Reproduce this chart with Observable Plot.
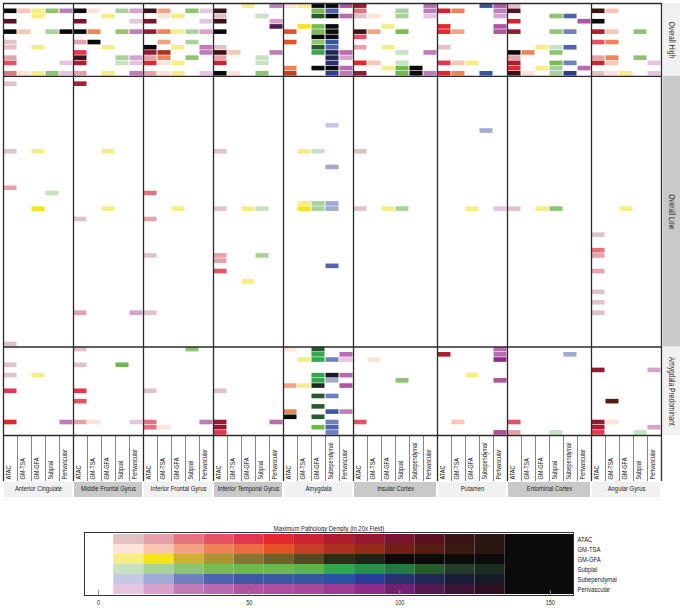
<!DOCTYPE html>
<html><head><meta charset="utf-8">
<script src="https://cdn.jsdelivr.net/npm/d3@7"></script>
<script src="https://cdn.jsdelivr.net/npm/@observablehq/plot@0.6"></script>
<style>
body{margin:0;background:#fff;}
#chart svg{display:block;}
</style></head><body><div id="chart"></div>
<script>
const FONT = '"Liberation Sans", Arial, sans-serif';
const SQUEEZE = 0.74; // horizontal squeeze to imitate the condensed face of the reference

const regions = ["Anterior Cingulate","Middle Frontal Gyrus","Inferior Frontal Gyrus","Inferior Temporal Gyrus","Amygdala","Insular Cortex","Putamen","Entorhinal Cortex","Angular Gyrus"];
const regionMeasures = [
  ["ATAC","GM-TSA","GM-GFA","Subpial","Perivascular"],
  ["ATAC","GM-TSA","GM-GFA","Subpial","Perivascular"],
  ["ATAC","GM-TSA","GM-GFA","Subpial","Perivascular"],
  ["ATAC","GM-TSA","GM-GFA","Subpial","Perivascular"],
  ["ATAC","GM-TSA","GM-GFA","Subependymal","Perivascular"],
  ["ATAC","GM-TSA","GM-GFA","Subpial","Subependymal","Perivascular"],
  ["ATAC","GM-TSA","GM-GFA","Subependymal","Perivascular"],
  ["ATAC","GM-TSA","GM-GFA","Subpial","Subependymal","Perivascular"],
  ["ATAC","GM-TSA","GM-GFA","Subpial","Perivascular"]
];
// colour family used for each column as drawn in the reference
const regionColorKeys = [
  ["ATAC","GM-TSA","GM-GFA","Subpial","Perivascular"],
  ["ATAC","GM-TSA","GM-GFA","Subpial","Perivascular"],
  ["ATAC","GM-TSA","GM-GFA","Subpial","Perivascular"],
  ["ATAC","GM-TSA","GM-GFA","Subpial","Perivascular"],
  ["GM-TSA","GM-GFA","Subpial","Subependymal","Perivascular"],
  ["ATAC","GM-TSA","GM-GFA","Subpial","Subependymal","Perivascular"],
  ["ATAC","GM-TSA","GM-GFA","Subependymal","Perivascular"],
  ["ATAC","GM-TSA","GM-GFA","Subpial","Subependymal","Perivascular"],
  ["ATAC","GM-TSA","GM-GFA","Subpial","Perivascular"]
];
const groups = ["Overall High","Overall Low","Amygdala Predominant"];

// density bin per cell: '.' = 0, 1..9,a..d = bins of 10, e = 140+
// column order: AC MFG IFG ITG AMY INS PUT ENT ANG
const highRows = [
  "..... ..... ..... ..1.3 11ee6 9....4 ...75 1..... .....",
  "e2133 e1.22 c3.31 c.... ..44. 3..2.3 74..3 b..... c2...",
  "..1.. ..1.. .11.. 1..1. ..be4 11.2.1 ....2 ...34. .....",
  "b.... a...1 a...1 c...2 ..... ...... ..... 7....5 e....",
  "..... ..... ..... ....b .24e. ..1... 6...5 ...... .....",
  "e2.2e e4.33 94122 e.... 6.4e. c3.4.. 63..5 9..33. 82.3.",
  "..... ..... ..... ..... ..ee. 4..... ..... ...... .....",
  "1.... 2e... .3.2. ..... 6.37. ...... ..... ...... 44...",
  "1.1.. ..1.. e.1.3 1.... ..b4. 2.1... 1.... ..114. .....",
  "..... 5.... 98..3 c2..3 ..8b4 ...1.3 ..... e4.3.. .....",
  "2.... c..22 24.3. 2..1. ...b2 ...... ..... 2..... 24.3.",
  "4...1 8..11 611.. 7..1. ...a. 62.1.. 521.. 8..43. 72..1",
  "..... ..... ..... ..... 4.ee4 ..15e. ..... 6.12.4 .....",
  "31131 2.1.3 211.1 e1.3. 7..93 9..5e3 64.7. c1.29. 111.1"
];
const lowRows = [
  "..... ..... ..... ..... ..... ...... ..... ...... .....",
  "1.... 8.... ..... ..... ..... ...... ..... ...... .....",
  "..... ..... ..... ..... ..... ...... ..... ...... .....",
  "..... ..... ..... ..... ..... ...... ..... ...... .....",
  "..... ..... ..... ..... ..... ...... ..... ...... .....",
  "..... ..... ..... ..... ..... ...... ..... ...... .....",
  "..... ..... ..... ..... ..... ...... ..... ...... .....",
  "..... ..... ..... ..... ..... ...... ..... ...... .....",
  "..... ..... ..... ..... ..... ...... ..... ...... .....",
  "..... ..... ..... ..... ...1. ...... ..... ...... .....",
  "..... ..... ..... ..... ..... ...... ...2. ...... .....",
  "..... ..... ..... ..... ..... ...... ..... ...... .....",
  "..... ..... ..... ..... ..... ...... ..... ...... .....",
  "..... ..... ..... ..... ..... ...... ..... ...... .....",
  "1.1.. ..1.. ..... 1.... .11.. 1..... ..... ...... .....",
  "..... ..... ..... ..... ..... ...... ..... ...... .....",
  "..... ..... ..... ..... ..... ...... ..... ...... .....",
  "..... ..... ..... ..... ...2. ...... ..... ...... .....",
  "..... ..... ..... ..... ..... ...... ..... ...... .....",
  "..... ..... ..... ..... ..... ...... ..... ...... .....",
  "..... ..... ..... ..... ..... ...... ..... ...... .....",
  "2.... ..... ..... ..... ..... ...... ..... ...... .....",
  "...1. ..... 3.... ..... ..... ...... ..... ...... .....",
  "..... ..... ..... ..... ..... ...... ..... ...... .....",
  "..... ..... ..... ..... .122. ...... ..... ...... .....",
  "..2.. ..1.. ..1.. 1.11. .222. 1.12.. ..1.1 1.13.. ..1..",
  "..... ..... ..... ..... ..... ...... ..... ...... .....",
  "..... 1.... 2.... ..... ..... ...... ..... ...... .....",
  "..... ..... ..... ..... ..... ...... ..... ...... .....",
  "..... ..... ..... ..... ..... ...... ..... ...... .....",
  "..... ..... ..... ..... ..... ...... ..... ...... 1....",
  "..... ..... ..... ..... ..... ...... ..... ...... .....",
  "..... ..... ..... ..... ..... ...... ..... ...... .....",
  "..... ..... ..... ..... ..... ...... ..... ...... 3....",
  "..... ..... 1.... 2..2. ..... ...... ..... ...... 2....",
  "..... ..... ..... 2.... ..... ...... ..... ...... .....",
  "..... ..... ..... ..... ...4. ...... ..... ...... .....",
  "..... ..... ..... 4.... ..... ...... ..... ...... 2....",
  "..... ..... ..... ..... ..... ...... ..... ...... .....",
  "..... ..... ..... ..1.. ..... ...... ..... ...... .....",
  "..... ..... ..... ..... ..... ...... ..... ...... .....",
  "..... ..... ..... ..... ..... ...... ..... ...... 1....",
  "..... ..... ..... ..... ..... ...... ..... ...... .....",
  "..... ..... ..... ..... ..... ...... ..... ...... 1....",
  "..... ..... ..... ..... ..... ...... ..... ...... .....",
  "..... 2...2 1.... ..... ..... ...... ..... ...... 1....",
  "..... ..... ..... ..... ..... ...... ..... ...... .....",
  "..... ..... ..... ..... ..... ...... ..... ...... .....",
  "..... ..... ..... ..... ..... ...... ..... ...... .....",
  "..... ..... ..... ..... ..... ...... ..... ...... .....",
  "..... ..... ..... ..... ..... ...... ..... ...... .....",
  "1.... ..... ..... ..... ..... ...... ..... ...... ....."
];
const amyRows = [
  "..... 1.... ...3. ..... 1.b.. ...... ....4 ...... .....",
  "..... ..... ..... ..... ..8.4 ...... 8...4 ....2. .....",
  "..... ..... ..... ..... .1831 .1.... ....9 ...... .....",
  "1.... 1..6. ..... ..... ..... ...... ..... ...... .....",
  "..... ..... ..... ..... ..... ...... ..... ...... 9...2",
  "1.1.. ..... ..... ..... ..8d4 ...... ..1.. ...... .....",
  "..... ..... ..... ..... ..82. ...3.. ....5 ...... .....",
  "..... ..... ..... ..... 31d.5 ...... ..... ...... .....",
  "5.... 5.... 1.... 1.... ..... ...... ..... ...... .....",
  "..... ..... ..... ..... ..b3. ...... ..... ...... .....",
  "..... 4.... ..... ..... ..... ...... ..... ...... .b...",
  "..... ..... ..... ..... ..b.. ...... ..... ...... .....",
  "..... ..... ..... ..... 4..63 ...... ..... ...... .....",
  "..... ..... ..... ..... e.b.. ...... ..... ...... .....",
  "6...3 21..1 3...3 9...4 ...3. 4..... .2... 4..... 91...",
  "..... ..... 31... 9.... ..64. ...... ..... ...... 8...2",
  "..... ..... ..... 5.... ...3. ...... ....6 2..1.. 5..1."
];

const measures = ["ATAC","GM-TSA","GM-GFA","Subpial","Subependymal","Perivascular"];
const palettes = {
  "ATAC": ["#e2c2c6","#e6a2aa","#e5737f","#e55263","#e43551","#e2282c","#cc2331","#ad1d2e","#951a30","#781530","#5a1222","#3b1419","#2b1515","#0b0b0b"],
  "GM-TSA": ["#fde3da","#f9c6b3","#f4a283","#f08355","#ec6b42","#e75129","#c63e27","#ac3120","#952a18","#731f17","#561c11","#3a1a10","#2a1710","#0b0b0b"],
  "GM-GFA": ["#f6ee84","#f8e31c","#cdb232","#a99532","#8e7232","#735f2a","#574822","#302a19","#222219","#0b0b0b","#0b0b0b","#0b0b0b","#0b0b0b","#0b0b0b"],
  "Subpial": ["#c6e2c2","#a9d29b","#8dc472","#79ba52","#6fb84a","#6cb84a","#5fb34a","#33a84b","#2a9048","#247840","#285a30","#213d29","#1c2c20","#0b0b0b"],
  "Subependymal": ["#c6c9e5","#a1a9d5","#7080bd","#5064ad","#3e58a3","#3a59a2","#3557a0","#2a52a2","#2b3c97","#283271","#212652","#191d3a","#151928","#0b0b0b"],
  "Perivascular": ["#e5c6e1","#d8a2cd","#c27bb9","#b86bb1","#b054a2","#ae4e9e","#a74a99","#9c3b91","#8b2c89","#702172","#521a52","#381534","#29111f","#0b0b0b"]
};
const legendTicks = [0, 50, 100, 150];
const legendTitle = "Maximum Pathology Density (in 20x Field)";

// ---- derived tables ----
const columns = [];
const regionSpans = [];
regions.forEach((name, ri) => {
  const start = columns.length;
  regionMeasures[ri].forEach((m, mi) => columns.push({col: columns.length, label: m, colorKey: regionColorKeys[ri][mi]}));
  regionSpans.push({name, start, end: columns.length, bg: ri % 2 ? "#c9c9c9" : "#f1f1f1"});
});
const nCols = columns.length;
const cells = [];
const groupSpans = [];
let rowIndex = 0;
[highRows, lowRows, amyRows].forEach((rows, gi) => {
  const start = rowIndex;
  rows.forEach(s => {
    [...s.replace(/\s/g, "")].forEach((ch, c) => {
      if (ch === ".") return;
      const level = parseInt(ch, 16);
      cells.push({row: rowIndex, col: c, level, key: `${columns[c].colorKey}|${level}`});
    });
    rowIndex++;
  });
  groupSpans.push({name: groups[gi], start, end: rowIndex, bg: gi === 1 ? "#c9c9c9" : "#f1f1f1"});
});
const nRows = rowIndex;
const colorDomain = measures.flatMap(m => palettes[m].map((_, i) => `${m}|${i + 1}`));
const colorRange = measures.flatMap(m => palettes[m]);
const facetBounds = [0, ...regionSpans.map(d => d.end)];
const innerBounds = d3.range(1, nCols).filter(i => !facetBounds.includes(i));
const groupBounds = [0, ...groupSpans.map(d => d.end)];

const main = Plot.plot({
  width: 680, height: 500,
  marginTop: 3, marginLeft: 3, marginRight: 19, marginBottom: 65,
  style: {fontFamily: FONT, color: "#222", background: "#fff"},
  x: {type: "linear", domain: [0, nCols], axis: null},
  y: {type: "linear", domain: [0, nRows], reverse: true, axis: null},
  color: {type: "ordinal", domain: colorDomain, range: colorRange},
  marks: [
    Plot.rect(groupSpans, {y1: "start", y2: "end", insetLeft: 660, insetRight: -19, fill: "bg"}),
    Plot.text(groupSpans, {y: d => (d.start + d.end) / 2, frameAnchor: "right", dx: 10, rotate: 90, textAnchor: "middle", text: "name", fontSize: 9, fill: "#333"}),
    Plot.rect(cells, {x1: "col", x2: d => d.col + 1, y1: "row", y2: d => d.row + 1, fill: "key",
      insetLeft: 0.5, insetRight: 0.5, insetTop: 0.3, insetBottom: 0.3}),
    Plot.ruleX(innerBounds, {insetTop: 432, insetBottom: -46, stroke: "#555", strokeWidth: 0.7}),
    Plot.ruleY(groupBounds, {stroke: "#2b2b2b", strokeWidth: 1.3}),
    Plot.ruleX(facetBounds, {insetBottom: -46, stroke: "#2b2b2b", strokeWidth: 1.3}),
    Plot.text(columns, {x: d => d.col + 0.5, frameAnchor: "bottom", dy: 44, rotate: -90, textAnchor: "start", text: "label", fontSize: 7.5, fill: "#222"}),
    Plot.rect(regionSpans, {x1: "start", x2: "end", insetTop: 479, insetBottom: -62, insetLeft: 1, insetRight: 1, fill: "bg"}),
    Plot.text(regionSpans, {x: d => (d.start + d.end) / 2, frameAnchor: "bottom", dy: 55.5, text: "name", fontSize: 8, fill: "#222"})
  ]
});

const legendCells = measures.flatMap(m => palettes[m].map((_, i) => {
  const level = i + 1;
  return {measure: m, level, key: `${m}|${level}`, lo: 5 + 10 * (level - 1), hi: level === 14 ? 157.7 : 5 + 10 * level};
}));

const legend = Plot.plot({
  width: 680, height: 108,
  marginTop: 32, marginBottom: 13, marginLeft: 84, marginRight: 107,
  style: {fontFamily: FONT, color: "#222", background: "#fff"},
  x: {type: "linear", domain: [-4.7, 157.7], axis: null},
  y: {type: "band", domain: measures, padding: 0, axis: null},
  color: {type: "ordinal", domain: colorDomain, range: colorRange},
  marks: [
    Plot.barX(legendCells, {x1: "lo", x2: "hi", y: "measure", fill: "key"}),
    Plot.ruleX(legendTicks, {insetTop: 58, stroke: "#888", strokeWidth: 1}),
    Plot.frame({stroke: "#333", strokeWidth: 1}),
    Plot.axisX({ticks: legendTicks, tickSize: 0, tickPadding: 4, fontSize: 7.5, label: null}),
    Plot.axisY({anchor: "right", tickSize: 0, tickPadding: 4, fontSize: 8, label: null}),
    Plot.text([legendTitle], {frameAnchor: "top", dy: -7, text: d => d, fontSize: 8, fill: "#222"})
  ]
});

const chart = document.getElementById("chart");
chart.appendChild(main);
chart.appendChild(legend);

// squeeze every text along its own direction (imitates a condensed face)
chart.querySelectorAll("svg text").forEach(t => {
  const tr = t.getAttribute("transform");
  if (tr) t.setAttribute("transform", `${tr} scale(${SQUEEZE},1)`);
});
</script></body></html>
